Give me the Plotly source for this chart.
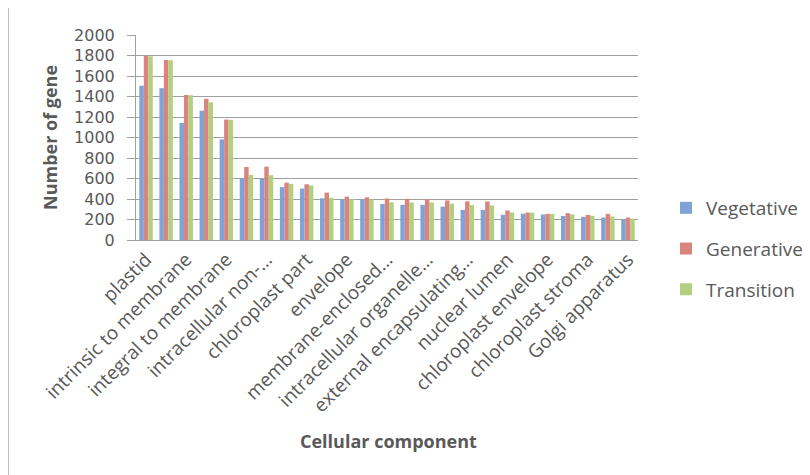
import plotly.graph_objects as go

categories = [
    "plastid", "chloroplast", "intrinsic to membrane", "plasma membrane",
    "integral to membrane", "non-membrane-bounded organelle",
    "intracellular non-membrane-bounded organelle", "plastid part",
    "chloroplast part", "thylakoid", "envelope", "organelle envelope",
    "membrane-enclosed lumen", "organelle lumen", "intracellular organelle lumen",
    "cell wall", "external encapsulating structure", "vacuole", "nuclear lumen",
    "plastid envelope", "chloroplast envelope", "plastid stroma",
    "chloroplast stroma", "plastid thylakoid", "Golgi apparatus",
]
tick_labels = [
    "plastid", "intrinsic to membrane", "integral to membrane",
    "intracellular non-…", "chloroplast part", "envelope",
    "membrane-enclosed…", "intracellular organelle…",
    "external encapsulating…", "nuclear lumen", "chloroplast envelope",
    "chloroplast stroma", "Golgi apparatus",
]
vegetative = [1506, 1480, 1142, 1262, 982, 605, 600, 516, 502, 407, 397, 400, 350,
              343, 343, 326, 294, 294, 246, 257, 249, 234, 226, 219, 198]
generative = [1795, 1756, 1415, 1378, 1175, 712, 716, 560, 544, 462, 423, 416, 405,
              402, 400, 386, 377, 376, 288, 268, 255, 262, 245, 255, 219]
transition = [1793, 1754, 1413, 1343, 1172, 635, 632, 548, 532, 412, 398, 395, 368,
              366, 366, 354, 342, 338, 268, 267, 254, 250, 236, 229, 209]
y_ticks = list(range(0, 2001, 200))

series = [
    ("Vegetative", vegetative, "#7FA3D7"),
    ("Generative", generative, "#D9847F"),
    ("Transition", transition, "#B3CF80"),
]

FONT = "Open Sans"
GREY = "#595959"

fig = go.Figure()
for name, vals, col in series:
    fig.add_trace(go.Bar(
        name=name, x=categories, y=vals, marker=dict(color=col, line=dict(width=0)),
        legendgroup=name,
    ))

# page has an 8px body margin: figure is sized to fit inside the window
OFF = 8
W, H = 810 - OFF, 475 - OFF
L, T = 136 - OFF, 35 - OFF
pw, ph = 502, 205
R, B = W - L - pw, H - T - ph

def px(x):
    return (x - OFF - L) / pw

def py(y):
    return (T + ph - (y - OFF)) / ph

fig.update_layout(
    width=W, height=H,
    margin=dict(l=L, r=R, t=T, b=B, autoexpand=False),
    paper_bgcolor="white", plot_bgcolor="white",
    barmode="group", bargap=0.33, bargroupgap=0,
    font=dict(family=FONT, color=GREY, size=19),
    legend=dict(
        x=px(666), y=py(189), xanchor="left", yanchor="top",
        font=dict(family=FONT, size=19, color=GREY),
        tracegroupgap=13, itemwidth=30, bgcolor="rgba(0,0,0,0)",
    ),
    xaxis=dict(
        type="category", tickmode="array",
        tickvals=categories[0::2], ticktext=tick_labels,
        tickangle=-45, ticks="", showgrid=False,
        showline=True, linecolor="#A0A0A0", linewidth=1,
        tickfont=dict(family=FONT, size=19, color=GREY),
        automargin=False,
    ),
    yaxis=dict(
        range=[0, 2000], tickvals=y_ticks, showgrid=True,
        gridcolor="#A0A0A0", gridwidth=1,
        showline=True, linecolor="#A0A0A0", linewidth=1,
        ticks="outside", ticklen=8, tickcolor="#A0A0A0",
        ticklabelstandoff=9,
        tickfont=dict(family="DejaVu Sans", size=16, color=GREY),
        zeroline=False, automargin=False,
    ),
    annotations=[
        dict(text="<b>Number of gene</b>", x=px(50), y=py(138), xref="paper", yref="paper",
             xanchor="center", yanchor="middle", textangle=-90, showarrow=False,
             font=dict(family=FONT, size=18, color=GREY)),
        dict(text="<b>Cellular component</b>", x=px(388), y=py(441), xref="paper", yref="paper",
             xanchor="center", yanchor="middle", showarrow=False,
             font=dict(family=FONT, size=18, color=GREY)),
    ],
    shapes=[
        dict(type="line", xref="paper", yref="paper", x0=px(8.5), x1=px(8.5),
             y0=0 - B / ph, y1=1 + T / ph, line=dict(color="#BFBFBF", width=1)),
    ],
)

fig.write_html("out.html")
